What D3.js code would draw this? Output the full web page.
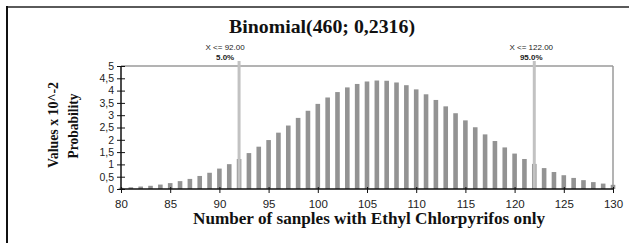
<!DOCTYPE html>
<html><head><meta charset="utf-8">
<script src="https://cdn.jsdelivr.net/npm/d3@7"></script>
<style>body{margin:0;background:#fff}svg{display:block}</style>
</head><body><svg id="c" width="629" height="243"></svg>
<script>
const categories = [80,81,82,83,84,85,86,87,88,89,90,91,92,93,94,95,96,97,98,99,100,101,102,103,104,105,106,107,108,109,110,111,112,113,114,115,116,117,118,119,120,121,122,123,124,125,126,127,128,129,130];
const probability = [0.05,0.07,0.10,0.13,0.18,0.24,0.32,0.41,0.53,0.66,0.83,1.01,1.22,1.46,1.72,1.99,2.29,2.58,2.89,3.18,3.46,3.72,3.94,4.13,4.27,4.37,4.41,4.40,4.33,4.22,4.05,3.85,3.62,3.36,3.08,2.79,2.51,2.22,1.95,1.69,1.44,1.22,1.02,0.85,0.69,0.56,0.45,0.36,0.28,0.22,0.17];
const yTicks = [0,0.5,1,1.5,2,2.5,3,3.5,4,4.5,5];
const yTickLabels = ["0","0,5","1","1,5","2","2,5","3","3,5","4","4,5","5"];
const xTicks = [80,85,90,95,100,105,110,115,120,125,130];
const markers = [{x:92, l1:"X <= 92.00", l2:"5.0%", dx:-14},{x:122, l1:"X <= 122.00", l2:"95.0%", dx:-3}];
const title = "Binomial(460; 0,2316)";
const xTitle = "Number of sanples with Ethyl Chlorpyrifos only";
const yTitle1 = "Values x 10^-2";
const yTitle2 = "Probability";

const svg = d3.select("#c");
const L=121, R=613, T=66, B=189;
const x = d3.scaleLinear().domain([80,130]).range([L,R]);
const y = d3.scaleLinear().domain([0,5]).range([B,T]);
const serif = "Liberation Serif, Times New Roman, serif";
const sans = "Liberation Sans, Arial, sans-serif";

// outer frame
svg.append("line").attr("x1",7).attr("x2",629).attr("y1",7).attr("y2",7).attr("stroke","#5a5a5a").attr("stroke-width",2);
svg.append("line").attr("x1",7).attr("x2",7).attr("y1",6).attr("y2",243).attr("stroke","#111").attr("stroke-width",2);

// plot frame top/right
svg.append("line").attr("x1",L).attr("x2",R).attr("y1",T).attr("y2",T).attr("stroke","#9a9a9a").attr("stroke-width",1.5);
svg.append("line").attr("x1",R).attr("x2",R).attr("y1",T).attr("y2",B).attr("stroke","#9a9a9a").attr("stroke-width",1.5);

// bars
const bw = 4.6;
svg.append("g").selectAll("rect").data(categories).join("rect")
  .attr("x",d=>x(d)-bw/2).attr("width",bw)
  .attr("y",(d,i)=>y(probability[i])).attr("height",(d,i)=>B-y(probability[i]))
  .attr("fill","#939393");

// marker lines
const mg = svg.append("g");
markers.forEach(m=>{
  mg.append("line").attr("x1",x(m.x)).attr("x2",x(m.x)).attr("y1",61).attr("y2",B).attr("stroke","#c2c2c2").attr("stroke-width",3);
  mg.append("text").attr("x",x(m.x)+m.dx).attr("y",50).attr("text-anchor","middle").attr("font-family",sans).attr("font-size",8).attr("fill","#222").text(m.l1);
  mg.append("text").attr("x",x(m.x)+m.dx).attr("y",59.5).attr("text-anchor","middle").attr("font-family",sans).attr("font-size",8).attr("font-weight","bold").attr("fill","#222").text(m.l2);
});

// y axis
const ya = svg.append("g").attr("transform",`translate(${L},0)`)
  .call(d3.axisLeft(y).tickValues(yTicks).tickFormat((d,i)=>yTickLabels[i]).tickSize(4).tickPadding(3));
ya.select(".domain").attr("stroke","#111").attr("stroke-width",1.5).attr("d",`M0,${T}V${B}`);
ya.selectAll(".tick line").attr("x1",4).attr("x2",-4).attr("stroke","#111");
ya.selectAll("text").attr("font-family",sans).attr("font-size",10.5).attr("fill","#222");

// x axis
const xa = svg.append("g").attr("transform",`translate(0,${B})`)
  .call(d3.axisBottom(x).tickValues(xTicks).tickSize(4).tickPadding(7));
xa.select(".domain").attr("stroke","#111").attr("stroke-width",1.5).attr("d",`M${L},0H${R}`);
xa.selectAll(".tick line").attr("y1",-2).attr("y2",4).attr("stroke","#111");
xa.selectAll("text").attr("font-family",sans).attr("font-size",11.5).attr("fill","#222");

// titles
svg.append("text").attr("x",322).attr("y",33).attr("text-anchor","middle").attr("font-family",serif).attr("font-weight","bold").attr("font-size",19.5).attr("textLength",186).attr("lengthAdjust","spacingAndGlyphs").attr("fill","#111").text(title);
svg.append("text").attr("x",369).attr("y",224).attr("text-anchor","middle").attr("font-family",serif).attr("font-weight","bold").attr("font-size",16).attr("textLength",352).attr("lengthAdjust","spacingAndGlyphs").attr("fill","#111").text(xTitle);
svg.append("text").attr("transform","translate(58,125) rotate(-90)").attr("text-anchor","middle").attr("font-family",serif).attr("font-weight","bold").attr("font-size",14).attr("textLength",86).attr("lengthAdjust","spacingAndGlyphs").attr("fill","#111").text(yTitle1);
svg.append("text").attr("transform","translate(78,126) rotate(-90)").attr("text-anchor","middle").attr("font-family",serif).attr("font-weight","bold").attr("font-size",14).attr("textLength",65).attr("lengthAdjust","spacingAndGlyphs").attr("fill","#111").text(yTitle2);
</script></body></html>
